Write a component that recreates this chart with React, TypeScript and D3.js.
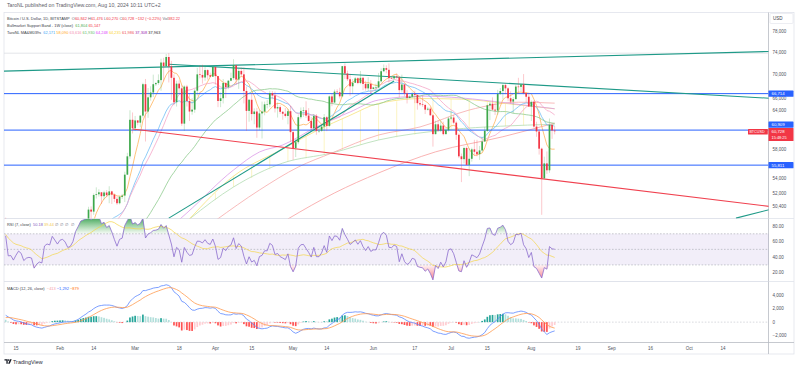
import * as React from 'react';
import * as d3 from 'd3';

type HLC = [number, number, number];
type Knot = [string, number];

// closes before the first visible bar, only used to warm up the indicators
const preCloses = [42280, 44180, 44950, 42850, 44180, 44160, 43970, 43940, 46970, 46130, 46650];

// daily BTCUSD bars from 2024-01-11 as [high, low, close]; the open is the previous close
const janBars: HLC[] = [
  [48950, 45600, 46350], [46500, 41500, 42800], [43250, 42450, 42850], [43050, 41700, 41750],
  [43350, 41700, 42500], [43550, 42050, 43150], [43200, 42200, 42750], [42900, 40650, 41300],
  [42200, 40300, 41600], [41850, 41450, 41700], [41850, 41500, 41580], [41650, 39450, 39500],
  [40100, 38550, 39900], [40500, 39500, 40100], [40300, 39300, 39950], [42200, 39850, 41800],
  [42200, 41400, 42100], [42850, 41650, 42000], [43300, 41800, 43300], [43850, 42700, 42950],
  [43750, 42300, 42580],
];
const febBars: HLC[] = [
  [43250, 41900, 43080], [43450, 42600, 43200], [43400, 42900, 43000], [43100, 42250, 42600],
  [43500, 42300, 42700], [43400, 42550, 43100], [44400, 42800, 44300], [45600, 44300, 45300],
  [48200, 45250, 47150], [48150, 46850, 47750], [48550, 47500, 48300], [50300, 47700, 49950],
  [50350, 48350, 49700], [52000, 49300, 51800], [52800, 51350, 51900], [52550, 51600, 52150],
  [52200, 50650, 51650], [52350, 51200, 52130], [52450, 51550, 51780], [52950, 50750, 52270],
  [52350, 50650, 51850], [52000, 50900, 51300], [51550, 50550, 50750], [51700, 50600, 51570],
  [51950, 51300, 51730], [54900, 50900, 54500], [57550, 54450, 57050], [64000, 56700, 62500],
  [63650, 60400, 61200],
];
const marBars: HLC[] = [
  [63100, 60800, 62400], [62400, 61650, 62050], [63200, 61350, 63150], [68550, 62850, 68300],
  [69200, 59200, 63800], [67650, 62800, 66100], [67950, 65550, 66900], [69950, 66150, 68300],
  [68650, 68000, 68500], [70000, 68200, 69000], [72800, 67200, 72100], [72950, 68800, 71450],
  [73650, 71350, 73100], [73800, 68600, 71400], [72400, 65700, 69400], [70000, 64800, 65300],
  [68900, 64600, 68400], [68950, 66600, 67600], [68100, 61550, 61900], [68100, 60800, 67900],
  [68200, 64600, 65500], [66650, 62300, 63800], [65950, 63300, 64100], [67500, 63600, 67200],
  [71150, 66400, 70000], [71550, 69300, 69900], [71700, 68400, 69450], [71550, 68900, 70750],
  [70900, 69100, 69850], [70300, 69600, 69600], [71350, 69600, 71300],
];
const aprBars: HLC[] = [
  [71300, 68200, 69700], [69700, 64500, 65500], [66900, 64500, 65950], [69200, 65100, 68500],
  [68700, 66000, 67800], [69000, 67450, 68900], [70300, 68800, 69350], [72700, 69050, 71600],
  [71700, 68250, 69100], [71000, 67500, 70600], [71200, 69600, 70000], [71200, 65100, 67150],
  [67900, 60800, 63900], [65800, 62200, 65700], [66850, 62400, 63400], [64300, 61800, 63800],
  [64400, 59750, 61300], [64100, 60900, 63500], [65400, 59650, 63800], [65400, 63200, 64950],
  [65650, 64300, 64950], [67200, 64500, 66800], [67150, 65800, 66400], [67050, 63650, 64300],
  [65250, 62850, 64500], [64800, 63400, 63750], [63900, 62500, 63450], [64350, 62850, 63100],
  [64200, 61800, 63850], [64700, 59200, 60600],
];
const mayBars: HLC[] = [
  [60850, 56550, 58250], [59600, 56950, 59100], [63300, 58800, 62900], [64450, 62600, 63900],
  [64500, 62950, 64000], [65450, 62800, 63150], [64350, 62250, 62300], [62950, 60900, 61200],
  [63400, 60650, 63100], [63400, 60200, 60800], [61400, 60500, 60800], [61800, 60650, 61450],
  [63400, 60800, 62900], [63100, 60750, 61550], [66400, 61350, 66250], [66750, 64650, 65250],
  [67400, 65150, 67050], [67450, 66650, 66950], [67700, 65900, 66270], [71500, 66100, 71450],
  [71950, 69200, 70150], [70650, 68850, 69150], [70100, 66350, 67950], [69200, 66650, 68550],
  [69550, 68500, 69300], [69500, 68300, 68500], [70600, 68300, 69400], [69550, 67300, 68350],
  [68900, 67200, 67600], [69500, 67150, 68350], [69000, 66700, 67500],
];
const junBars: HLC[] = [
  [67850, 67400, 67750], [68400, 67300, 67750], [70250, 67600, 68800], [71050, 68550, 70550],
  [71750, 70400, 71100], [71600, 70200, 70800], [71950, 68600, 69350], [69550, 69200, 69300],
  [69850, 69150, 69650], [70150, 69250, 69500], [69550, 66100, 67300], [69950, 66900, 68250],
  [68400, 66300, 66750], [67300, 65100, 66000], [66450, 65900, 66200], [66950, 66050, 66650],
  [67200, 65150, 66500], [66500, 64100, 65150], [65700, 64700, 64950], [66450, 64550, 64850],
  [65050, 63400, 64100], [64550, 63950, 64250], [64500, 63200, 63200], [63350, 58450, 60300],
  [62350, 60250, 61800], [62450, 60650, 60850], [62350, 60600, 61600], [62200, 60100, 60300],
  [61200, 60250, 60900], [62950, 60700, 62700],
];
const julBars: HLC[] = [
  [63800, 62500, 62850], [63250, 61800, 62050], [62250, 59450, 60200], [60400, 56800, 57050],
  [57450, 53500, 56650], [58450, 56050, 58250], [58450, 55800, 55850], [58250, 54300, 56700],
  [58300, 56300, 58050], [59450, 57150, 57700], [59450, 57050, 57350], [58550, 56550, 57900],
  [59850, 57750, 59200], [61400, 59200, 60800], [64900, 60650, 64800], [65350, 62450, 65050],
  [66100, 63950, 64100], [65150, 63250, 63950], [67350, 63300, 66650], [67650, 66500, 67150],
  [68350, 65750, 68150], [68450, 66600, 67600], [67800, 65450, 65950], [67100, 65100, 65400],
  [66150, 63500, 65800], [68200, 65800, 67900], [69400, 66650, 67850], [68300, 67050, 68250],
  [70050, 66600, 66800], [66950, 65300, 66200], [66850, 64550, 64600],
];
const augBars: HLC[] = [
  [65600, 62300, 65350], [65600, 61250, 61450], [62200, 59900, 60700], [61100, 57300, 58150],
  [58300, 49300, 54000], [57000, 53950, 56050], [57750, 54600, 55100], [62700, 54750, 61700],
  [61800, 59600, 60850],
];
const lastBar = { open: 60842, high: 61476, low: 60270, close: 60728 };

// slow averages as (date, price) points
const sma100Knots: Knot[] = [
  ['2024-03-18', 48700], ['2024-03-21', 49540], ['2024-04-08', 55140], ['2024-04-18', 57670],
  ['2024-04-27', 58690], ['2024-05-10', 61390], ['2024-05-23', 63730], ['2024-06-03', 65660],
  ['2024-06-20', 66300], ['2024-07-05', 66000], ['2024-07-22', 65200], ['2024-08-10', 64248],
];
const ema100Knots: Knot[] = [
  ['2024-03-22', 48800], ['2024-04-08', 54300], ['2024-04-27', 58100], ['2024-05-10', 60800],
  ['2024-05-23', 63200], ['2024-06-03', 65100], ['2024-06-20', 65900], ['2024-07-05', 65800],
  ['2024-07-22', 65100], ['2024-08-10', 64235],
];
const bandLowKnots: Knot[] = [
  ['2024-03-22', 48800], ['2024-04-08', 52850], ['2024-04-27', 56100], ['2024-05-16', 57530],
  ['2024-06-03', 59430], ['2024-07-01', 61000], ['2024-07-20', 61500], ['2024-08-10', 61804],
];
const bandHighKnots: Knot[] = [
  ['2024-04-01', 48600], ['2024-04-18', 52450], ['2024-05-03', 55550], ['2024-05-16', 57530],
  ['2024-06-03', 60170], ['2024-06-19', 61390], ['2024-07-08', 64040], ['2024-07-27', 65300],
  ['2024-08-10', 65147],
];
const sma200Knots: Knot[] = [
  ['2024-04-29', 48800], ['2024-05-17', 52070], ['2024-06-03', 54730], ['2024-06-25', 57690],
  ['2024-07-21', 59910], ['2024-08-10', 61986],
];

// drawings
const trendLines: { from: Knot; to: Knot; color: string }[] = [
  { from: ['2024-01-10', 70560], to: ['2024-11-01', 74120], color: '#1f9a88' },
  { from: ['2024-03-14', 71800], to: ['2024-11-01', 65950], color: '#1f9a88' },
  { from: ['2024-03-14', 48900], to: ['2024-06-09', 68850], color: '#1f9a88' },
  { from: ['2024-10-19', 48900], to: ['2024-11-01', 49950], color: '#1f9a88' },
  { from: ['2024-02-29', 61070], to: ['2024-11-01', 50350], color: '#f0414f' },
];
const hLevels = [66714, 60909, 55811];
const athLevel = 73800;

const priceTicks = [78000, 74000, 70000, 66000, 64000, 58000, 54000, 52000, 50400];
const rsiTicks = [80, 60, 40, 20];
const macdTicks = [4000, 2000, 0, -2000];
const timeTicks: [string, string][] = [
  ['2024-01-15', '15'], ['2024-02-01', 'Feb'], ['2024-02-14', '14'], ['2024-03-01', 'Mar'],
  ['2024-03-18', '18'], ['2024-04-01', 'Apr'], ['2024-04-15', '15'], ['2024-05-01', 'May'],
  ['2024-05-14', '14'], ['2024-06-01', 'Jun'], ['2024-06-17', '17'], ['2024-07-01', 'Jul'],
  ['2024-07-15', '15'], ['2024-08-01', 'Aug'], ['2024-08-19', '19'], ['2024-09-01', 'Sep'],
  ['2024-09-16', '16'], ['2024-10-01', 'Oct'], ['2024-10-14', '14'],
];

const RED = '#f23645';
const GREEN = '#3ea84c';
const GRAY = '#6a6d78';
const DARK = '#3b3e48';

const legendSymbol: [string, string][] = [
  ['Bitcoin / U.S. Dollar, 1D, BITSTAMP  ', DARK], ['O', GRAY], ['60,842 ', RED], ['H', GRAY], ['61,476 ', RED],
  ['L', GRAY], ['60,270 ', RED], ['C', GRAY], ['60,728 ', RED], ['\u2212132 (\u22120.22%) ', RED], ['Vol', GRAY], ['382.22', RED],
];
const legendBand: [string, string][] = [
  ['Bullmarket Support Band - 1W (close)  ', DARK], ['61,804 ', '#4caf50'], ['65,147', RED],
];
const legendMa: [string, string][] = [
  ['TaroNL MA&M039s  ', DARK], ['62,171 ', '#42a5f5'], ['58,090 ', '#ffa726'], ['63,616 ', '#f48fb1'],
  ['61,930 ', '#66bb6a'], ['64,248 ', '#e040fb'], ['64,235 ', '#fbd535'], ['61,986 ', '#ef5350'],
  ['37,308 ', '#9c27b0'], ['37,963', '#222']
];
const legendRsi: [string, string][] = [
  ['RSI (7, close)  ', DARK], ['50.18 ', '#7e57c2'], ['39.44 ', '#f2c94c'], ['\u2205  \u2205  \u2205  \u2205', GRAY],
];
const legendMacd: [string, string][] = [
  ['MACD (12, 26, close)  ', DARK], ['\u2212413 ', '#f7a1a8'], ['\u22121,292 ', '#2962ff'], ['\u2212879', '#ff6d00'],
];

const day = (s: string) => new Date(s + 'T00:00:00Z');
const fmt = d3.format(',');
const minus = (s: string) => s.replace('-', '\u2212');

function sma(v: number[], n: number) {
  return v.map((_, i) => (i < n - 1 ? NaN : (d3.mean(v.slice(i - n + 1, i + 1)) as number)));
}
function ema(v: number[], n: number) {
  const k = 2 / (n + 1);
  let e = v[0];
  return v.map((p, i) => (e = i === 0 ? p : p * k + e * (1 - k)));
}
function rsi(v: number[], n: number) {
  const out = [NaN];
  let g = 0, l = 0;
  for (let i = 1; i < v.length; i++) {
    const d = v[i] - v[i - 1];
    const up = Math.max(d, 0), dn = Math.max(-d, 0);
    if (i <= n) {
      g += up / n; l += dn / n;
      out.push(i === n ? 100 - 100 / (1 + g / l) : NaN);
    } else {
      g = (g * (n - 1) + up) / n; l = (l * (n - 1) + dn) / n;
      out.push(l === 0 ? 100 : 100 - 100 / (1 + g / l));
    }
  }
  return out;
}

// tiny text is laid out at 4x and scaled down, so glyph advances stay proportional
const K = 4;
type TxtProps = { x: number; y: number; size: number; fill?: string; anchor?: string; mid?: boolean; children: React.ReactNode };
const Txt = ({ x, y, size, fill, anchor, mid, children }: TxtProps) => (
  <g transform={`translate(${x} ${y}) scale(${1 / K})`}>
    <text fontSize={size * K} fill={fill} textAnchor={anchor} dy={mid ? '0.35em' : undefined}
      xmlSpace="preserve" style={{ whiteSpace: 'pre' }}>{children}</text>
  </g>
);
const Legend = ({ x, y, items, size }: { x: number; y: number; items: [string, string][]; size: number }) => (
  <Txt x={x} y={y} size={size}>
    {items.map(([t, c], i) => <tspan key={i} fill={c}>{t}</tspan>)}
  </Txt>
);

export default function App() {
  const bars = [...janBars, ...febBars, ...marBars, ...aprBars, ...mayBars, ...junBars, ...julBars, ...augBars];
  const start = day('2024-01-11');
  const candles = bars.map(([high, low, close], i) => ({
    date: d3.utcDay.offset(start, i),
    open: i === 0 ? preCloses[preCloses.length - 1] : bars[i - 1][2],
    high, low, close,
  }));
  candles.push({ date: d3.utcDay.offset(start, bars.length), ...lastBar });

  const closes = [...preCloses, ...candles.map(c => c.close)];
  const off = preCloses.length;
  const pick = (vals: number[]) => candles.map((c, i) => [c.date, vals[i + off]] as [Date, number]);

  const x = d3.scaleUtc().domain([day('2024-01-15'), day('2024-10-14')]).range([16, 723]);
  const y = d3.scaleLog().domain([78000, 50400]).range([31, 206]);
  const yRsi = d3.scaleLinear().domain([80, 20]).range([226, 272.7]);
  const yMacd = d3.scaleLinear().domain([4000, -2000]).range([295, 335.7]);

  const left = 4, axisX = 768.5, right = 794;
  const mainTop = 12.5, mainBottom = 218.5, rsiBottom = 281.5, macdBottom = 342.5, frameBottom = 354;

  const priceLine = d3.line<[Date, number]>().defined(d => !isNaN(d[1])).x(d => x(d[0])).y(d => y(d[1]));
  const knotLine = d3.line<Knot>().curve(d3.curveMonotoneX).x(d => x(day(d[0]))).y(d => y(d[1]));
  const interp = (k: Knot[]) => d3.scaleUtc().domain(k.map(p => day(p[0]))).range(k.map(p => p[1])).clamp(true);

  const fastMas = [
    { vals: sma(closes, 7), color: '#ffb45c' },
    { vals: ema(closes, 21), color: '#72bff5' },
    { vals: sma(closes, 21), color: '#f5a6c8' },
    { vals: sma(closes, 50), color: '#8fcb8f' },
  ];
  const slowMas = [
    { knots: bandLowKnots, color: '#b3dcb2' },
    { knots: bandHighKnots, color: '#f6a9a9' },
    { knots: sma200Knots, color: '#f7a0a0' },
    { knots: ema100Knots, color: '#f6e27a' },
    { knots: sma100Knots, color: '#dc9be8' },
  ];
  const hatchTop = interp(ema100Knots), hatchBottom = interp(bandLowKnots);
  const hatchDays = d3.utcMonday.range(day('2024-04-01'), day('2024-08-01'));

  const rsiAll = rsi(closes, 7);
  const rsiMa = rsiAll.map((_, i) => {
    const w = rsiAll.slice(Math.max(0, i - 13), i + 1).filter(v => !isNaN(v));
    return w.length ? (d3.mean(w) as number) : NaN;
  });
  const rsiPts = pick(rsiAll), rsiMaPts = pick(rsiMa);
  const rsiLine = d3.line<[Date, number]>().defined(d => !isNaN(d[1])).x(d => x(d[0])).y(d => yRsi(d[1]));
  const obArea = d3.area<[Date, number]>().defined(d => !isNaN(d[1])).x(d => x(d[0]))
    .y0(yRsi(70)).y1(d => yRsi(Math.max(d[1], 70)));
  const osArea = d3.area<[Date, number]>().defined(d => !isNaN(d[1])).x(d => x(d[0]))
    .y0(yRsi(30)).y1(d => yRsi(Math.min(d[1], 30)));

  const e12 = ema(closes, 12), e26 = ema(closes, 26);
  const macd = e12.map((v, i) => v - e26[i]);
  const signal = ema(macd, 9);
  const hist = macd.map((v, i) => v - signal[i]);
  const macdLine = d3.line<[Date, number]>().x(d => x(d[0])).y(d => yMacd(d[1]));
  const histColor = (i: number) => {
    const h = hist[i + off], p = hist[i + off - 1];
    if (h >= 0) return p < h ? '#26a69a' : '#b2dfdb';
    return p < h ? '#ffcdd2' : '#ff5252';
  };

  const cur = lastBar.close;
  const yCur = y(cur);
  const curBoxTop = yCur - 3.3;
  const bw = 1.7;
  const lg = 3.95;
  const ax = 4.5;

  return (
    <svg width={800} height={370} style={{ position: 'fixed', left: 0, top: 0, background: '#fff' }}
      fontFamily="'Liberation Sans', Arial, sans-serif">
      <defs>
        <clipPath id="cMain"><rect x={left} y={mainTop} width={axisX - left} height={mainBottom - mainTop} /></clipPath>
        <clipPath id="cRsi"><rect x={left} y={mainBottom + 0.5} width={axisX - left} height={rsiBottom - mainBottom - 0.5} /></clipPath>
        <clipPath id="cMacd"><rect x={left} y={rsiBottom + 0.5} width={axisX - left} height={macdBottom - rsiBottom - 0.5} /></clipPath>
        <linearGradient id="gOb" gradientUnits="userSpaceOnUse" x1={0} x2={0} y1={mainBottom} y2={yRsi(70)}>
          <stop offset="0" stopColor="#2e9d49" stopOpacity={0.85} />
          <stop offset="1" stopColor="#4caf50" stopOpacity={0.05} />
        </linearGradient>
        <linearGradient id="gOs" gradientUnits="userSpaceOnUse" x1={0} x2={0} y1={yRsi(30)} y2={rsiBottom}>
          <stop offset="0" stopColor="#f23645" stopOpacity={0.05} />
          <stop offset="1" stopColor="#f23645" stopOpacity={0.7} />
        </linearGradient>
      </defs>

      <Txt x={7} y={7.1} size={5.2} fill="#5d6069">TaroNL published on TradingView.com, Aug 10, 2024 10:11 UTC+2</Txt>

      {/* frame and pane separators */}
      <rect x={left} y={mainTop} width={right - left} height={frameBottom - mainTop} fill="none" stroke="#e0e3eb" strokeWidth={0.8} />
      <line x1={left} x2={axisX} y1={mainBottom} y2={mainBottom} stroke="#e0e3eb" strokeWidth={1} />
      <line x1={left} x2={axisX} y1={rsiBottom} y2={rsiBottom} stroke="#e0e3eb" strokeWidth={1} />
      <line x1={left} x2={right} y1={macdBottom} y2={macdBottom} stroke="#b8bbc3" strokeWidth={0.8} />
      <line x1={axisX} x2={axisX} y1={mainTop} y2={frameBottom} stroke="#b8bbc3" strokeWidth={0.8} />
      <line x1={axisX} x2={right} y1={mainBottom} y2={mainBottom} stroke="#e0e3eb" strokeWidth={0.8} />
      <line x1={axisX} x2={right} y1={rsiBottom} y2={rsiBottom} stroke="#e0e3eb" strokeWidth={0.8} />

      {/* main pane */}
      <g clipPath="url(#cMain)">
        <line x1={left} x2={axisX} y1={y(athLevel)} y2={y(athLevel)} stroke="#dcdee4" strokeWidth={0.8} />
        {hatchDays.map((d, i) => (
          <line key={i} x1={x(d)} x2={x(d)} y1={y(hatchTop(d))} y2={y(hatchBottom(d))} stroke="#f8ec9c" strokeWidth={0.6} />
        ))}
        {slowMas.map((m, i) => (
          <path key={i} d={knotLine(m.knots) as string} fill="none" stroke={m.color} strokeWidth={0.8} />
        ))}
        {fastMas.map((m, i) => (
          <path key={i} d={priceLine(pick(m.vals)) as string} fill="none" stroke={m.color} strokeWidth={0.8} />
        ))}
        {hLevels.map(v => (
          <line key={v} x1={left} x2={axisX} y1={y(v)} y2={y(v)} stroke="#2962ff" strokeWidth={1} />
        ))}
        {trendLines.map((t, i) => (
          <line key={i} x1={x(day(t.from[0]))} y1={y(t.from[1])} x2={x(day(t.to[0]))} y2={y(t.to[1])}
            stroke={t.color} strokeWidth={1.1} />
        ))}
        {candles.map((c, i) => {
          const cx = x(c.date);
          const col = c.close >= c.open ? GREEN : RED;
          const top = y(Math.max(c.open, c.close));
          const h = Math.max(0.6, Math.abs(y(c.open) - y(c.close)));
          return (
            <g key={i}>
              <line x1={cx} x2={cx} y1={y(c.high)} y2={y(c.low)} stroke={col} strokeOpacity={0.45} strokeWidth={0.6} />
              <rect x={cx - bw / 2} y={top} width={bw} height={h} fill={col} />
            </g>
          );
        })}
      </g>

      <Legend x={7} y={20.4} size={lg} items={legendSymbol} />
      <Legend x={7} y={27.1} size={lg} items={legendBand} />
      <Legend x={7} y={33.8} size={lg} items={legendMa} />

      {/* RSI pane */}
      <rect x={left} y={yRsi(70)} width={axisX - left} height={yRsi(30) - yRsi(70)} fill="#7e57c2" fillOpacity={0.1} />
      {[70, 50, 30].map(v => (
        <line key={v} x1={left} x2={axisX} y1={yRsi(v)} y2={yRsi(v)} stroke="#9598a1" strokeWidth={0.5} strokeDasharray="1.6 1.6" />
      ))}
      <g clipPath="url(#cRsi)">
        <path d={obArea(rsiPts) as string} fill="url(#gOb)" />
        <path d={osArea(rsiPts) as string} fill="url(#gOs)" />
        <path d={rsiLine(rsiMaPts) as string} fill="none" stroke="#f5d547" strokeWidth={0.7} />
        <path d={rsiLine(rsiPts) as string} fill="none" stroke="#8c6cce" strokeWidth={0.8} />
      </g>
      <Legend x={7} y={226.4} size={lg} items={legendRsi} />

      {/* MACD pane */}
      <line x1={left} x2={axisX} y1={yMacd(0)} y2={yMacd(0)} stroke="#b2b5be" strokeWidth={0.5} strokeDasharray="1.6 1.6" />
      <g clipPath="url(#cMacd)">
        {candles.map((c, i) => {
          const h = hist[i + off];
          return (
            <rect key={i} x={x(c.date) - bw / 2} width={bw} y={Math.min(yMacd(h), yMacd(0))}
              height={Math.abs(yMacd(h) - yMacd(0))} fill={histColor(i)} />
          );
        })}
        <path d={macdLine(pick(macd)) as string} fill="none" stroke="#5a86ff" strokeWidth={0.8} />
        <path d={macdLine(pick(signal)) as string} fill="none" stroke="#ff9b4f" strokeWidth={0.8} />
      </g>
      <Legend x={7} y={290.4} size={lg} items={legendMacd} />

      {/* price axis */}
      <rect x={770} y={13.5} width={23} height={10} fill="#fff" stroke="#e0e3eb" strokeWidth={0.6} rx={1} />
      <Txt x={773} y={20.2} size={ax} fill={DARK}>USD</Txt>
      {priceTicks.map(v => (
        <Txt key={v} x={772.5} y={y(v)} mid size={ax} fill="#50535e">{fmt(v)}</Txt>
      ))}
      {rsiTicks.map(v => (
        <Txt key={v} x={772.5} y={yRsi(v)} mid size={ax} fill="#50535e">{v.toFixed(2)}</Txt>
      ))}
      {macdTicks.map(v => (
        <Txt key={v} x={772.5} y={yMacd(v)} mid size={ax} fill="#50535e">{minus(fmt(v))}</Txt>
      ))}

      {hLevels.map(v => {
        let ly = y(v);
        if (Math.abs(ly - (curBoxTop + 3.3)) < 8) ly = curBoxTop - 3.4;
        return (
          <g key={v}>
            <rect x={axisX} y={ly - 3.1} width={right - axisX - 0.5} height={6.2} fill="#2962ff" rx={0.6} />
            <Txt x={771.5} y={ly} mid size={4.3} fill="#fff">{fmt(v)}</Txt>
          </g>
        );
      })}
      <rect x={axisX} y={curBoxTop} width={right - axisX - 0.5} height={13} fill={RED} rx={0.6} />
      <Txt x={771.5} y={yCur + 0.4} mid size={4.3} fill="#fff">{fmt(cur)}</Txt>
      <Txt x={771.5} y={yCur + 6.6} mid size={3.9} fill="#fff">15:48:25</Txt>
      <rect x={748} y={yCur - 2.4} width={19.8} height={5.6} fill={RED} rx={0.6} />
      <Txt x={749.4} y={yCur + 0.4} mid size={3.7} fill="#fff">BTCUSD</Txt>

      {/* time axis */}
      {timeTicks.map(([d, t]) => (
        <Txt key={d} x={x(day(d))} y={349.9} size={ax} fill="#50535e" anchor="middle">{t}</Txt>
      ))}

      {/* TradingView mark */}
      <g transform="translate(4.5,359.3)" fill="#131722">
        <path d="M0 0h3.2v4.4h-1.3v-3.1h-1.9z" />
        <circle cx={4.2} cy={0.8} r={0.8} />
        <path d="M5.6 0h1.6l-2 4.4h-1.6z" />
      </g>
      <Txt x={13} y={363.6} size={5.4} fill="#2a2e39">TradingView</Txt>
    </svg>
  );
}
